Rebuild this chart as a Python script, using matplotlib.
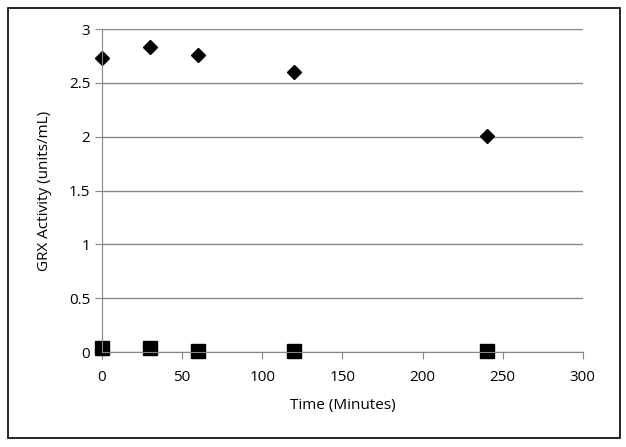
import matplotlib.pyplot as plt
from matplotlib.patches import Rectangle

# data
time = [0, 30, 60, 120, 240]
grx_a = [2.73, 2.83, 2.76, 2.60, 2.01]
grx_b = [0.04, 0.04, 0.01, 0.01, 0.01]

plt.rcParams['font.family'] = ['Open Sans', 'DejaVu Sans']

fig = plt.figure(figsize=(6.26, 4.47), dpi=100)
ax = fig.add_axes([0.163, 0.2125, 0.768, 0.7225])

gray = '#868686'
ax.set_xlim(0, 300)
ax.set_ylim(0, 3)
ax.set_xticks(range(0, 301, 50))
ax.set_yticks([0, 0.5, 1, 1.5, 2, 2.5, 3])
ax.set_yticklabels(['0', '0.5', '1', '1.5', '2', '2.5', '3'])
ax.yaxis.grid(True, color=gray, linewidth=1)
ax.set_axisbelow(True)
for s in ['top', 'right']:
    ax.spines[s].set_visible(False)
for s in ['left', 'bottom']:
    ax.spines[s].set_color(gray)
ax.tick_params(axis='both', colors=gray, length=5, labelcolor='black', labelsize=11)
ax.tick_params(axis='x', pad=8)

ax.plot(time, grx_a, 'D', color='black', markersize=7, clip_on=False)
ax.plot(time, grx_b, 's', color='black', markersize=10.5, clip_on=False)

ax.set_xlabel('Time (Minutes)', fontsize=11, labelpad=9)
ax.set_ylabel('GRX Activity (units/mL)', fontsize=11, labelpad=12)

# outer frame like the excel chart border
fig.patches.append(Rectangle((0.013, 0.02), 0.978, 0.962, transform=fig.transFigure,
                             fill=False, edgecolor='black', linewidth=1.2))

fig.savefig('out.png')
